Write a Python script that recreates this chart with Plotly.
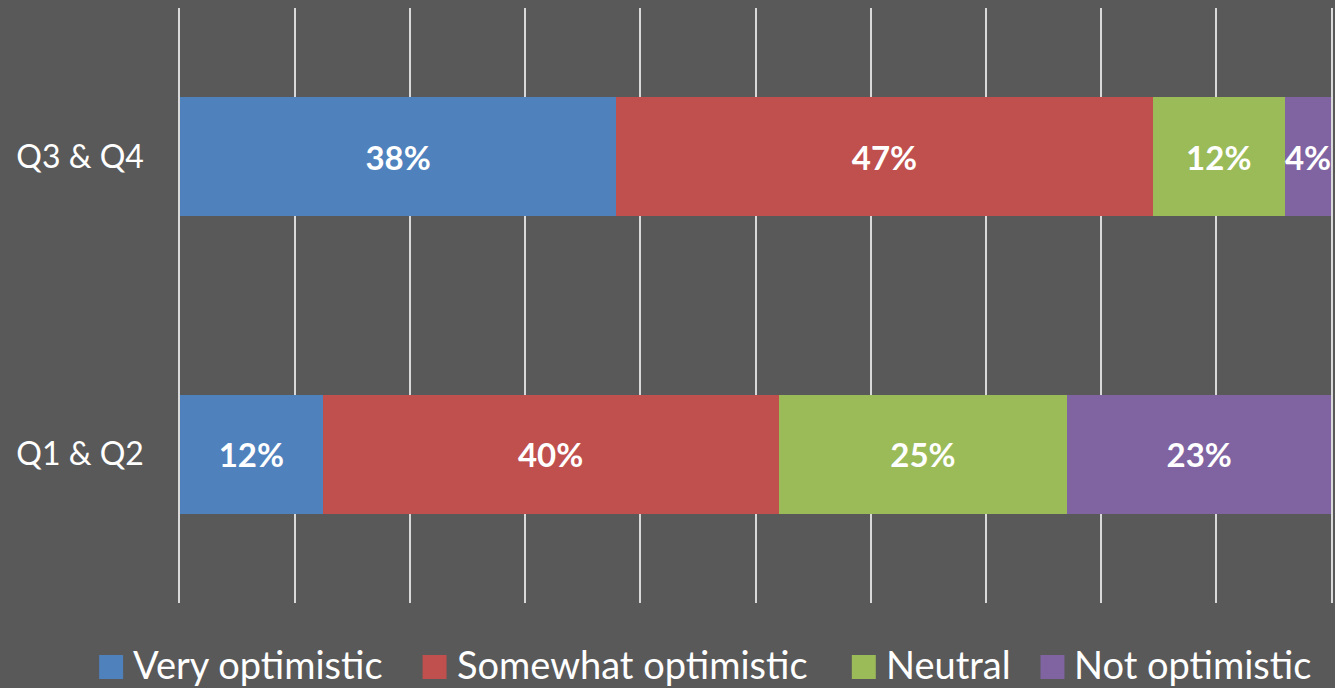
import plotly.graph_objects as go

categories = ["Q1 & Q2", "Q3 & Q4"]
series_names = ["Very optimistic", "Somewhat optimistic", "Neutral", "Not optimistic"]
very_optimistic = [12.4, 37.9]
somewhat_optimistic = [39.6, 46.6]
neutral = [25.1, 11.5]
not_optimistic = [22.9, 4.0]
series_values = [very_optimistic, somewhat_optimistic, neutral, not_optimistic]
colors = ["#4F81BD", "#C0504D", "#9BBB59", "#8064A2"]

BG = "#595959"
GRID = "#D9D9D9"
FONT = "Lato, Calibri, Carlito, sans-serif"

fig = go.Figure()
for name, vals, col in zip(series_names, series_values, colors):
    fig.add_trace(go.Bar(
        y=categories, x=vals, name=name, orientation="h",
        marker=dict(color=col, line=dict(width=0)),
        texttemplate="%{x:.0f}%", textposition="inside",
        insidetextanchor="middle", textangle=0,
        textfont=dict(family=FONT, size=33, color="white", weight="bold"),
        showlegend=False,
    ))

L, R, T, B = 180, 2, 8, 85
W, H = 1335, 688
pw, ph = W - L - R, H - T - B

fig.update_layout(
    width=W, height=H,
    barmode="stack", bargap=0.6,
    paper_bgcolor=BG, plot_bgcolor=BG,
    margin=dict(l=L, r=R, t=T, b=B),
    uniformtext=dict(minsize=33, mode="show"),
    xaxis=dict(range=[0, 100], dtick=10, showgrid=True, gridcolor=GRID,
               gridwidth=1.5, showticklabels=False, zeroline=False,
               showline=False, fixedrange=True),
    yaxis=dict(categoryorder="array", categoryarray=categories,
               showgrid=False, zeroline=False,
               showline=True, mirror=True, linecolor=GRID, linewidth=1.5,
               tickfont=dict(family=FONT, size=32, color="white"),
               ticklabelstandoff=28, fixedrange=True),
    font=dict(family=FONT, color="white"),
)

# custom legend below the plot
legend_x = [99, 423, 853, 1042]
sq = 24
yc = 667
text_yc = 664
for name, col, xpx in zip(series_names, colors, legend_x):
    fig.add_shape(type="rect", xref="paper", yref="paper",
                  x0=(xpx - L) / pw, x1=(xpx + sq - L) / pw,
                  y0=(H - B - (yc + sq / 2)) / ph, y1=(H - B - (yc - sq / 2)) / ph,
                  fillcolor=col, line=dict(width=0), layer="above")
    fig.add_annotation(xref="paper", yref="paper",
                       x=(xpx + sq + 8 - L) / pw, y=(H - B - text_yc) / ph,
                       xanchor="left", yanchor="middle", showarrow=False,
                       text=name, font=dict(family=FONT, size=38, color="white"))

fig.write_html(
    "out.html",
    config={"displayModeBar": False},
    post_script="document.body.style.margin='0';document.body.style.overflow='hidden';"
                "document.body.style.background='%s';" % BG,
)
